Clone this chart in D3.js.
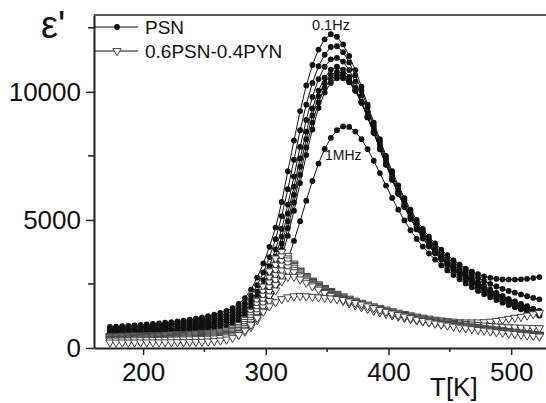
<!DOCTYPE html>
<html>
<head>
<meta charset="utf-8">
<script src="https://cdn.jsdelivr.net/npm/d3@7"></script>
<style>
	body { margin: 0; background: #fff; }
	text { font-family: "Liberation Sans", Arial, sans-serif; fill: #111; }
</style>
</head>
<body>
<div id="chart"></div>
<script>
// Temperature grid [K], shared by every curve
var temps = [173, 178, 183, 188, 193, 198, 203, 208, 213, 218, 223, 228, 233, 238, 243, 248, 253, 258, 263, 268,
	273, 278, 283, 288, 293, 298, 303, 308, 313, 318, 323, 328, 333, 338, 343, 348, 353, 358, 363, 368,
	373, 378, 383, 388, 393, 398, 403, 408, 413, 418, 423, 428, 433, 438, 443, 448, 453, 458, 463, 468,
	473, 478, 483, 488, 493, 498, 503, 508, 513, 518, 523];

var freqs = ["0.1Hz", "1Hz", "10Hz", "100Hz", "1kHz", "10kHz", "100kHz", "1MHz"];

// PSN, eps' (one array per frequency)
var psn_01Hz = [820, 835, 850, 865, 880, 900, 920, 940, 960, 985, 1010, 1040, 1070, 1110, 1150, 1195, 1245, 1300, 1370, 1450,
	1560, 1720, 1950, 2280, 2750, 3300, 3950, 4700, 5700, 6900, 8100, 9250, 10250, 11050, 11650, 12050, 12250, 12150, 11850, 11400,
	10850, 10200, 9500, 8800, 8150, 7500, 6900, 6350, 5850, 5400, 5000, 4650, 4350, 4080, 3840, 3620, 3420, 3250, 3100, 2980,
	2880, 2800, 2740, 2700, 2680, 2670, 2670, 2680, 2700, 2730, 2770];
var psn_1Hz = [770, 785, 800, 815, 830, 845, 865, 885, 905, 925, 950, 975, 1005, 1040, 1075, 1115, 1160, 1210, 1270, 1340,
	1430, 1560, 1750, 2040, 2450, 2950, 3550, 4250, 5150, 6200, 7350, 8500, 9500, 10350, 11000, 11450, 11750, 11780, 11550, 11150,
	10650, 10050, 9400, 8700, 8050, 7400, 6800, 6250, 5750, 5300, 4900, 4550, 4250, 3980, 3740, 3520, 3330, 3160, 3000, 2860,
	2730, 2610, 2500, 2400, 2310, 2230, 2160, 2090, 2020, 1960, 1900];
var psn_10Hz = [720, 735, 750, 765, 780, 795, 810, 830, 850, 870, 890, 915, 940, 970, 1000, 1035, 1075, 1120, 1175, 1240,
	1320, 1430, 1600, 1850, 2200, 2650, 3200, 3850, 4650, 5600, 6700, 7850, 8900, 9800, 10500, 10980, 11270, 11330, 11180, 10850,
	10400, 9850, 9250, 8600, 7950, 7300, 6700, 6150, 5650, 5200, 4800, 4450, 4150, 3880, 3640, 3420, 3220, 3040, 2870, 2710,
	2560, 2420, 2280, 2150, 2030, 1920, 1820, 1720, 1630, 1540, 1460];
var psn_100Hz = [670, 685, 700, 715, 728, 742, 757, 773, 790, 808, 827, 848, 870, 895, 922, 953, 990, 1030, 1080, 1140,
	1215, 1320, 1470, 1690, 2000, 2420, 2950, 3580, 4350, 5250, 6300, 7400, 8450, 9350, 10050, 10550, 10870, 10980, 10870, 10580,
	10150, 9620, 9030, 8420, 7800, 7200, 6620, 6080, 5580, 5140, 4750, 4400, 4100, 3830, 3590, 3370, 3170, 2990, 2820, 2660,
	2510, 2370, 2230, 2100, 1980, 1870, 1760, 1660, 1560, 1470, 1390];
var psn_1kHz = [620, 634, 648, 662, 676, 690, 704, 719, 735, 752, 770, 790, 811, 834, 859, 887, 920, 958, 1002, 1055,
	1120, 1210, 1340, 1540, 1830, 2220, 2720, 3330, 4070, 4950, 5980, 7080, 8150, 9080, 9830, 10350, 10660, 10790, 10720, 10480,
	10080, 9580, 9000, 8390, 7760, 7150, 6570, 6030, 5530, 5090, 4700, 4350, 4050, 3780, 3540, 3320, 3120, 2940, 2770, 2610,
	2460, 2320, 2190, 2060, 1940, 1830, 1720, 1620, 1520, 1430, 1340];
var psn_10kHz = [580, 593, 606, 619, 632, 645, 658, 672, 686, 701, 717, 734, 752, 772, 794, 818, 846, 879, 918, 965,
	1025, 1105, 1220, 1400, 1670, 2040, 2520, 3110, 3830, 4680, 5680, 6760, 7830, 8800, 9590, 10150, 10500, 10650, 10620, 10420,
	10050, 9570, 9010, 8410, 7780, 7160, 6570, 6020, 5510, 5060, 4660, 4310, 4000, 3730, 3490, 3270, 3070, 2890, 2720, 2560,
	2410, 2270, 2140, 2010, 1890, 1780, 1670, 1570, 1470, 1380, 1300];
var psn_100kHz = [540, 552, 564, 576, 588, 600, 612, 625, 638, 652, 667, 682, 699, 717, 737, 759, 784, 813, 848, 890,
	943, 1015, 1120, 1280, 1520, 1860, 2310, 2870, 3560, 4380, 5360, 6440, 7530, 8530, 9370, 9970, 10350, 10530, 10530, 10370,
	10040, 9590, 9050, 8460, 7830, 7200, 6600, 6030, 5510, 5040, 4630, 4270, 3960, 3690, 3450, 3230, 3030, 2850, 2680, 2520,
	2370, 2230, 2100, 1970, 1850, 1740, 1630, 1530, 1430, 1340, 1260];
var psn_1MHz = [470, 480, 490, 500, 510, 521, 532, 543, 555, 567, 580, 594, 609, 625, 643, 663, 686, 712, 742, 778,
	822, 880, 960, 1080, 1260, 1510, 1850, 2290, 2830, 3460, 4180, 4950, 5750, 6520, 7200, 7770, 8200, 8500, 8650, 8630,
	8450, 8150, 7760, 7310, 6830, 6340, 5860, 5400, 4980, 4600, 4260, 3960, 3690, 3450, 3230, 3030, 2850, 2680, 2520, 2370,
	2230, 2100, 1980, 1870, 1770, 1680, 1590, 1510, 1430, 1360, 1290];

// 0.6PSN-0.4PYN
var pyn_01Hz = [470, 475, 480, 485, 490, 496, 502, 508, 515, 522, 530, 538, 547, 557, 568, 580, 595, 615, 645, 690,
	770, 900, 1110, 1420, 1850, 2400, 3000, 3500, 3750, 3600, 3300, 3030, 2820, 2640, 2490, 2350, 2230, 2120, 2020, 1930,
	1850, 1770, 1700, 1630, 1560, 1500, 1440, 1380, 1330, 1280, 1230, 1190, 1150, 1110, 1080, 1050, 1030, 1010, 1000, 1000,
	1000, 1010, 1030, 1060, 1100, 1140, 1180, 1220, 1270, 1320, 1370];
var pyn_1Hz = [440, 445, 450, 455, 460, 465, 471, 477, 483, 490, 497, 505, 514, 524, 535, 547, 561, 579, 605, 645,
	715, 830, 1020, 1300, 1700, 2200, 2750, 3250, 3580, 3500, 3250, 3000, 2790, 2610, 2450, 2310, 2190, 2080, 1980, 1890,
	1810, 1730, 1660, 1590, 1520, 1460, 1400, 1340, 1290, 1240, 1190, 1150, 1110, 1070, 1040, 1010, 980, 960, 940, 920,
	900, 880, 860, 845, 830, 815, 805, 795, 788, 782, 778];
var pyn_10Hz = [410, 415, 420, 424, 429, 434, 439, 445, 451, 457, 464, 471, 479, 488, 498, 509, 522, 538, 562, 598,
	660, 765, 940, 1200, 1570, 2040, 2560, 3050, 3400, 3420, 3200, 2960, 2760, 2580, 2420, 2280, 2160, 2050, 1950, 1860,
	1780, 1700, 1630, 1560, 1490, 1430, 1370, 1310, 1260, 1210, 1160, 1120, 1080, 1040, 1000, 970, 940, 910, 880, 850,
	820, 790, 760, 730, 700, 670, 640, 610, 580, 555, 530];
var pyn_100Hz = [380, 384, 388, 392, 396, 401, 406, 411, 416, 422, 428, 435, 442, 450, 459, 469, 481, 496, 518, 551,
	607, 703, 862, 1100, 1440, 1880, 2370, 2850, 3220, 3300, 3140, 2910, 2720, 2550, 2390, 2250, 2130, 2020, 1920, 1830,
	1750, 1670, 1600, 1530, 1460, 1400, 1340, 1280, 1230, 1180, 1130, 1090, 1050, 1010, 970, 940, 910, 880, 850, 820,
	790, 760, 730, 700, 670, 640, 610, 585, 560, 535, 510];
var pyn_1kHz = [350, 354, 358, 362, 366, 370, 374, 379, 384, 389, 395, 401, 408, 415, 423, 432, 443, 457, 477, 507,
	558, 645, 790, 1010, 1320, 1730, 2190, 2650, 3030, 3150, 3060, 2860, 2680, 2510, 2360, 2220, 2100, 1990, 1890, 1800,
	1720, 1640, 1570, 1500, 1440, 1380, 1320, 1260, 1210, 1160, 1110, 1070, 1030, 990, 950, 920, 890, 860, 830, 800,
	770, 740, 710, 680, 650, 625, 600, 575, 550, 525, 500];
var pyn_10kHz = [320, 324, 327, 331, 335, 339, 343, 347, 352, 357, 362, 368, 374, 381, 388, 396, 406, 419, 437, 464,
	509, 588, 720, 920, 1210, 1590, 2020, 2460, 2830, 3000, 2960, 2800, 2630, 2470, 2330, 2190, 2070, 1960, 1860, 1770,
	1690, 1610, 1540, 1470, 1410, 1350, 1290, 1240, 1190, 1140, 1090, 1050, 1010, 970, 930, 900, 870, 840, 810, 780,
	750, 720, 690, 660, 635, 610, 585, 560, 535, 510, 490];
var pyn_100kHz = [290, 293, 296, 300, 303, 307, 310, 314, 318, 322, 327, 332, 337, 343, 350, 357, 366, 377, 393, 417,
	457, 527, 645, 825, 1090, 1440, 1840, 2250, 2600, 2780, 2780, 2680, 2550, 2410, 2280, 2150, 2040, 1930, 1840, 1750,
	1670, 1600, 1530, 1460, 1400, 1340, 1280, 1230, 1180, 1130, 1080, 1040, 1000, 960, 920, 890, 860, 830, 800, 770,
	740, 710, 680, 650, 625, 600, 575, 550, 525, 500, 480];
var pyn_1MHz = [215, 216, 217, 218, 219, 220, 221, 222, 223, 224, 226, 228, 231, 235, 240, 247, 257, 272, 295, 333,
	400, 510, 680, 910, 1170, 1420, 1630, 1790, 1910, 1980, 2020, 2030, 2020, 2000, 1980, 1960, 1940, 1910, 1870, 1820,
	1760, 1700, 1630, 1560, 1490, 1420, 1350, 1290, 1230, 1170, 1110, 1060, 1010, 960, 920, 880, 840, 800, 770, 740,
	710, 680, 650, 620, 595, 570, 545, 520, 495, 470, 450];

var psnSeries = [psn_01Hz, psn_1Hz, psn_10Hz, psn_100Hz, psn_1kHz, psn_10kHz, psn_100kHz, psn_1MHz];
var pynSeries = [pyn_01Hz, pyn_1Hz, pyn_10Hz, pyn_100Hz, pyn_1kHz, pyn_10kHz, pyn_100kHz, pyn_1MHz];

var xTicks = [200, 300, 400, 500];
var xMinor = [250, 350, 450];
var yTicks = [0, 5000, 10000];
var yMinor = [2500, 7500, 12500];
var legendNames = ["PSN", "0.6PSN-0.4PYN"];

window.onload = function() {
	var width = 546, height = 403;
	var plot = {left: 94, top: 15, right: 546, bottom: 348};

	var svg = d3.select("#chart").append("svg")
		.attr("width", width)
		.attr("height", height);

	var x = d3.scaleLinear().domain([160, 528.4]).range([plot.left, plot.right]);
	var y = d3.scaleLinear().domain([0, 13000]).range([plot.bottom, plot.top]);

	// frame: top line only (no right axis in the original)
	svg.append("line")
		.attr("x1", plot.left).attr("x2", plot.right)
		.attr("y1", plot.top).attr("y2", plot.top)
		.attr("stroke", "#222").attr("stroke-width", 1.5);

	// axes
	var xAxis = svg.append("g")
		.attr("transform", "translate(0," + plot.bottom + ")")
		.call(d3.axisBottom(x).tickValues(xTicks).tickSize(7).tickSizeOuter(0).tickPadding(8));
	xAxis.append("g").selectAll("line").data(xMinor).join("line")
		.attr("x1", d => x(d)).attr("x2", d => x(d))
		.attr("y1", 0).attr("y2", 4)
		.attr("stroke", "#222").attr("stroke-width", 1.5);

	var yAxis = svg.append("g")
		.attr("transform", "translate(" + plot.left + ",0)")
		.call(d3.axisLeft(y).tickValues(yTicks).tickFormat(d3.format("d")).tickSize(8).tickSizeOuter(0).tickPadding(5));
	yAxis.append("g").selectAll("line").data(yMinor).join("line")
		.attr("x1", -6).attr("x2", 0)
		.attr("y1", d => y(d)).attr("y2", d => y(d))
		.attr("stroke", "#222").attr("stroke-width", 1.5);

	[xAxis, yAxis].forEach(function(ax) {
		ax.select(".domain").attr("stroke", "#222").attr("stroke-width", 2);
		ax.selectAll(".tick line").attr("stroke", "#222").attr("stroke-width", 1.5);
		ax.selectAll(".tick text")
			.style("font-family", "Liberation Sans, Arial, sans-serif")
			.style("font-size", "26px")
			.attr("fill", "#111");
	});

	var line = d3.line()
		.x((d, i) => x(temps[i]))
		.y(d => y(d));

	var triangle = d3.symbol(d3.symbolTriangle, 30);

	// PSN: black lines with filled circles
	psnSeries.forEach(function(vals, k) {
		var g = svg.append("g").attr("class", "psn f" + k);
		g.append("path")
			.attr("d", line(vals))
			.attr("fill", "none")
			.attr("stroke", "#111")
			.attr("stroke-width", 1);
		g.selectAll("circle").data(vals).join("circle")
			.attr("cx", (d, i) => x(temps[i]))
			.attr("cy", d => y(d))
			.attr("r", 2.9)
			.attr("fill", "#111");
	});

	// 0.6PSN-0.4PYN: black lines with open down-triangles
	pynSeries.forEach(function(vals, k) {
		var g = svg.append("g").attr("class", "pyn f" + k);
		g.append("path")
			.attr("d", line(vals))
			.attr("fill", "none")
			.attr("stroke", "#111")
			.attr("stroke-width", 1);
		g.selectAll("path.sym").data(vals).join("path")
			.attr("class", "sym")
			.attr("d", triangle)
			.attr("transform", (d, i) => "translate(" + x(temps[i]) + "," + y(d) + ") rotate(180)")
			.attr("fill", "#fff")
			.attr("stroke", "#444")
			.attr("stroke-width", 1);
	});

	// frequency annotations
	svg.append("text")
		.attr("x", 312).attr("y", 30)
		.style("font-size", "14.5px")
		.text(freqs[0]);
	svg.append("text")
		.attr("x", 325).attr("y", 160)
		.style("font-size", "14px")
		.text(freqs[7]);

	// legend
	var legend = svg.append("g");
	legendNames.forEach(function(name, k) {
		var ly = 27 + k * 24;
		legend.append("line")
			.attr("x1", plot.left).attr("x2", 138)
			.attr("y1", ly).attr("y2", ly)
			.attr("stroke", "#111").attr("stroke-width", 1);
		if (k == 0) {
			legend.append("circle").attr("cx", 117).attr("cy", ly).attr("r", 2.9).attr("fill", "#111");
		} else {
			legend.append("path")
				.attr("d", triangle)
				.attr("transform", "translate(117," + ly + ") rotate(180)")
				.attr("fill", "#fff").attr("stroke", "#444").attr("stroke-width", 1);
		}
		legend.append("text")
			.attr("x", 145).attr("y", ly + 7)
			.style("font-size", "19px")
			.text(name);
	});

	// axis titles
	svg.append("text")
		.attr("x", 41).attr("y", 38)
		.style("font-size", "38px")
		.text("\u03b5'");
	svg.append("text")
		.attr("x", 430).attr("y", 396)
		.style("font-size", "26px")
		.text("T[K]");
};
</script>
</body>
</html>
